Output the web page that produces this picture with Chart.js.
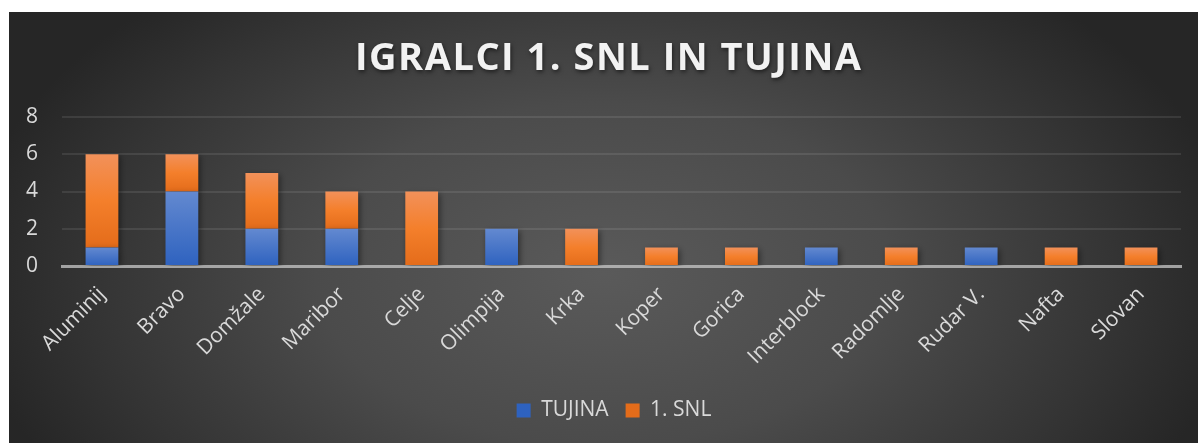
<!DOCTYPE html>
<html><head><meta charset="utf-8">
<script src="https://cdn.jsdelivr.net/npm/chart.js@4.4.1/dist/chart.umd.min.js"></script>
<style>
html,body{margin:0;padding:0;background:#fff;}
#wrap{position:absolute;left:9px;top:12px;width:1189px;height:431px;}
</style></head><body>
<div id="wrap"><canvas id="c" width="1189" height="431"></canvas></div>
<script>
const categories = ['Aluminij','Bravo','Domžale','Maribor','Celje','Olimpija','Krka','Koper','Gorica','Interblock','Radomlje','Rudar V.','Nafta','Slovan'];
const tujina = [1,4,2,2,0,2,0,0,0,1,0,1,0,0];
const snl    = [5,2,3,2,4,0,2,1,1,0,1,0,1,1];
const seriesNames = ['TUJINA','1. SNL'];
const yTicks = [0,2,4,6,8];
const titleText = 'IGRALCI 1. SNL IN TUJINA';

const FONT = '"Open Sans", "DejaVu Sans", sans-serif';
const TXT = '#d9d9d9';

function grad(stops, base, dsIndex){
  return function(ctx){
    if (ctx.type !== 'data') return base;
    const chart = ctx.chart, y = chart.scales.y;
    if (!y || !chart.chartArea) return base;
    const i = ctx.dataIndex;
    let start = 0;
    for (let d = 0; d < dsIndex; d++) start += chart.data.datasets[d].data[i];
    const v = chart.data.datasets[dsIndex].data[i];
    const top = y.getPixelForValue(start + v), bot = y.getPixelForValue(start);
    if (!(bot - top > 0.5)) return base;
    const g = chart.ctx.createLinearGradient(0, top, 0, bot);
    stops.forEach(s => g.addColorStop(s[0], s[1]));
    return g;
  };
}

const bgPlugin = {
  id: 'bg',
  beforeDraw(chart){
    const c = chart.ctx, w = chart.width, h = chart.height;
    const cx = 595, cy = 262, rx = 640, ry = 380;
    c.save();
    c.translate(cx, cy);
    c.scale(1, ry/rx);
    const g = c.createRadialGradient(0,0,0,0,0,rx);
    g.addColorStop(0, '#5a5a5a');
    g.addColorStop(0.45, '#4b4b4b');
    g.addColorStop(0.8, '#343434');
    g.addColorStop(1, '#262626');
    c.fillStyle = g;
    c.fillRect(-cx, -cy*rx/ry, w, h*rx/ry);
    c.restore();
  }
};

const shadowPlugin = {
  id: 'shadow',
  beforeDatasetsDraw(chart){
    const c = chart.ctx;
    c.save();
    c.shadowColor = 'rgba(0,0,0,0.45)';
    c.shadowBlur = 6;
    c.shadowOffsetX = 2;
    c.shadowOffsetY = 2;
  },
  afterDatasetsDraw(chart){ chart.ctx.restore(); }
};

const legendShift = {
  id: 'legendShift',
  afterLayout(chart){
    if (chart.legend) { chart.legend.left += 38; }
  }
};

const titlePlugin = {
  id: 'ttl',
  afterDraw(chart){
    const c = chart.ctx;
    c.save();
    c.font = 'bold 38px ' + FONT;
    c.letterSpacing = '1.5px';
    c.fillStyle = '#f2f2f2';
    c.textAlign = 'center';
    c.textBaseline = 'middle';
    c.shadowColor = 'rgba(0,0,0,0.55)';
    c.shadowBlur = 4;
    c.shadowOffsetX = 1;
    c.shadowOffsetY = 2;
    c.fillText(titleText, 599 + 0.75, 47);
    c.restore();
  }
};

new Chart(document.getElementById('c'), {
  type: 'bar',
  data: {
    labels: categories,
    datasets: [
      { label: seriesNames[0], data: tujina,
        backgroundColor: grad([[0,'#6389d0'],[1,'#2e62bf']], '#4472c4', 0) },
      { label: seriesNames[1], data: snl,
        backgroundColor: grad([[0,'#f2915a'],[0.5,'#f47f2b'],[1,'#e46c1a']], '#ed7d31', 1) }
    ]
  },
  options: {
    responsive: false,
    animation: false,
    devicePixelRatio: 1,
    layout: { padding: { top: 105, left: 0, right: 17, bottom: 12 } },
    datasets: { bar: { categoryPercentage: 1, barPercentage: 0.41 } },
    plugins: {
      title: { display: false },
      tooltip: { enabled: false },
      legend: {
        position: 'bottom',
        labels: { color: TXT, font: { family: FONT, size: 21 }, boxWidth: 14, boxHeight: 14, padding: 17 }
      }
    },
    scales: {
      x: {
        stacked: true,
        z: 1,
        grid: { display: false },
        border: { display: true, color: 'rgba(200,200,200,0.75)', width: 3 },
        ticks: { color: TXT, font: { family: FONT, size: 21 }, minRotation: 45, maxRotation: 45, padding: 8 },
        afterFit(s){ s.height = 117; }
      },
      y: {
        stacked: true,
        min: 0, max: 8,
        afterBuildTicks(s){ s.ticks = yTicks.map(v => ({ value: v })); },
        ticks: { color: TXT, font: { family: FONT, size: 21 }, padding: 24 },
        grid: { color: c => c.tick && c.tick.value === 0 ? 'rgba(0,0,0,0)' : 'rgba(255,255,255,0.09)', lineWidth: 2, drawTicks: false },
        border: { display: false },
        afterFit(s){ s.width = 53; }
      }
    }
  },
  plugins: [bgPlugin, shadowPlugin, legendShift, titlePlugin]
});
</script>
</body></html>
